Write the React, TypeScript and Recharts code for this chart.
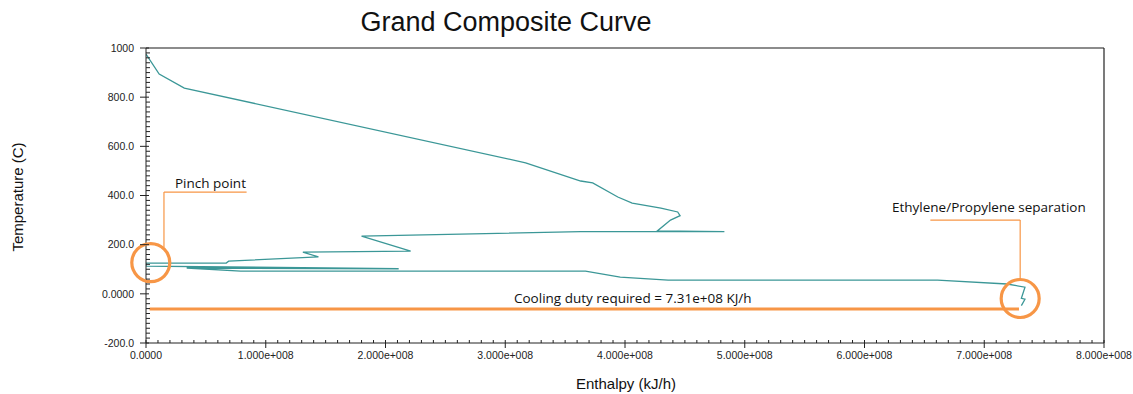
import React from 'react';
import { LineChart, Line, XAxis, YAxis, ReferenceLine, ReferenceDot } from 'recharts';

// grand composite curve (kJ/h, C), in drawing order
const enthalpy = [
  0, 0.11e8, 0.32e8, 3.17e8, 3.63e8, 3.73e8, 3.94e8, 4.06e8, 4.3e8, 4.44e8, 4.46e8, 4.38e8, 4.27e8,
  4.83e8, 3.63e8, 1.8e8, 2.21e8, 1.31e8, 1.44e8, 0.69e8, 0.67e8, 0, 0, 2.11e8, 0.34e8, 0.79e8,
  3.67e8, 3.96e8, 4.36e8, 6.61e8, 7.19e8, 7.34e8, 7.31e8, 7.34e8, 7.31e8,
];
const temperature = [
  975, 894, 837, 533, 459, 451, 394, 369, 349, 333, 318, 300, 256,
  253, 253, 235, 174, 170, 150, 133, 125, 125, 113, 102, 105, 92,
  92, 68, 56, 56, 40, 27, -18, -22, -48,
];

const xMajorTicks = [0, 1e8, 2e8, 3e8, 4e8, 5e8, 6e8, 7e8, 8e8];
const xTickLabels = ['0.0000', '1.000e+008', '2.000e+008', '3.000e+008', '4.000e+008', '5.000e+008', '6.000e+008', '7.000e+008', '8.000e+008'];
const yMajorTicks = [-200, 0, 200, 400, 600, 800, 1000];
const yTickLabels = ['-200.0', '0.0000', '200.0', '400.0', '600.0', '800.0', '1000'];

// annotations
const coolingDuty = { from: 0.03e8, to: 7.29e8, t: -62 };
const pinchPoint = { h: 0.04e8, t: 127 };
const pinchCallout = { h: 0.15e8, hEnd: 0.84e8, tLow: 188, tHigh: 414 };
const ethylenePoint = { h: 7.3e8, t: -19 };
const ethyleneCallout = { h: 7.3e8, hEnd: 6.55e8, tLow: 60, tHigh: 300 };

const ORANGE = '#F79646';
const CURVE = '#3b9797';
const AXIS = '#222';

function withMinors(majors: number[]) {
  const out: number[] = [];
  for (let i = 0; i < majors.length - 1; i++) {
    for (let k = 0; k < 10; k++) out.push(majors[i] + (k * (majors[i + 1] - majors[i])) / 10);
  }
  out.push(majors[majors.length - 1]);
  return out;
}

const data = enthalpy.map((h, i) => ({ h, t: temperature[i] }));

function XTick({ x, y, payload }: any) {
  const i = xMajorTicks.indexOf(payload.value);
  if (i < 0) return <line x1={x} y1={y} x2={x} y2={y - 3} stroke={AXIS} />;
  return (
    <g>
      <line x1={x} y1={y - 3} x2={x} y2={y + 5} stroke={AXIS} />
      <text x={x} y={y + 16} textAnchor="middle" fontSize={10.5} fill={AXIS} fontFamily="Liberation Sans, Arial">
        {xTickLabels[i]}
      </text>
    </g>
  );
}

function YTick({ x, y, payload }: any) {
  const i = yMajorTicks.indexOf(payload.value);
  if (i < 0) return <line x1={x} y1={y} x2={x + 4} y2={y} stroke={AXIS} />;
  return (
    <g>
      <line x1={x - 6} y1={y} x2={x + 3} y2={y} stroke={AXIS} />
      <text x={x - 12} y={y} dy="0.35em" textAnchor="end" fontSize={10.5} fill={AXIS} fontFamily="Liberation Sans, Arial">
        {yTickLabels[i]}
      </text>
    </g>
  );
}

const note: React.CSSProperties = {
  position: 'absolute',
  fontFamily: '"Open Sans", sans-serif',
  fontSize: 13.5,
  lineHeight: '18px',
  color: '#111',
  whiteSpace: 'nowrap',
};

export default function App() {
  return (
    <div style={{ position: 'absolute', left: 0, top: 0, width: 1133, height: 394, background: '#fff' }}>
      <LineChart width={1133} height={394} data={data} margin={{ top: 48, right: 29, bottom: 21, left: 86 }}>
        <XAxis
          type="number"
          dataKey="h"
          domain={[0, 8e8]}
          allowDataOverflow
          ticks={withMinors(xMajorTicks)}
          interval={0}
          tick={<XTick />}
          tickLine={false}
          tickSize={0}
          tickMargin={0}
          height={30}
          axisLine={{ stroke: AXIS }}
        />
        <YAxis
          type="number"
          dataKey="t"
          domain={[-200, 1000]}
          allowDataOverflow
          ticks={withMinors(yMajorTicks)}
          interval={0}
          tick={<YTick />}
          tickLine={false}
          tickSize={0}
          tickMargin={0}
          width={60}
          axisLine={{ stroke: AXIS }}
        />
        <ReferenceLine y={1000} stroke="#666" strokeWidth={1.5} ifOverflow="visible" />
        <ReferenceLine x={8e8} stroke={AXIS} strokeWidth={1.2} ifOverflow="visible" />
        <Line
          dataKey="t"
          type="linear"
          stroke={CURVE}
          strokeWidth={1.3}
          dot={false}
          isAnimationActive={false}
        />
        <ReferenceLine
          segment={[{ x: coolingDuty.from, y: coolingDuty.t }, { x: coolingDuty.to, y: coolingDuty.t }]}
          stroke={ORANGE}
          strokeWidth={3}
          ifOverflow="visible"
        />
        <ReferenceLine
          segment={[{ x: pinchCallout.h, y: pinchCallout.tLow }, { x: pinchCallout.h, y: pinchCallout.tHigh }]}
          stroke={ORANGE}
          strokeWidth={1.2}
          ifOverflow="visible"
        />
        <ReferenceLine
          segment={[{ x: pinchCallout.h, y: pinchCallout.tHigh }, { x: pinchCallout.hEnd, y: pinchCallout.tHigh }]}
          stroke={ORANGE}
          strokeWidth={1.2}
          ifOverflow="visible"
        />
        <ReferenceLine
          segment={[{ x: ethyleneCallout.h, y: ethyleneCallout.tLow }, { x: ethyleneCallout.h, y: ethyleneCallout.tHigh }]}
          stroke={ORANGE}
          strokeWidth={1.2}
          ifOverflow="visible"
        />
        <ReferenceLine
          segment={[{ x: ethyleneCallout.hEnd, y: ethyleneCallout.tHigh }, { x: ethyleneCallout.h, y: ethyleneCallout.tHigh }]}
          stroke={ORANGE}
          strokeWidth={1.2}
          ifOverflow="visible"
        />
        <ReferenceDot x={pinchPoint.h} y={pinchPoint.t} r={19} fill="none" stroke={ORANGE} strokeWidth={3.2} ifOverflow="visible" />
        <ReferenceDot x={ethylenePoint.h} y={ethylenePoint.t} r={19} fill="none" stroke={ORANGE} strokeWidth={3.2} ifOverflow="visible" />
      </LineChart>

      <div
        style={{
          position: 'absolute',
          left: 506,
          top: 7,
          transform: 'translateX(-50%)',
          fontFamily: '"Liberation Sans", Arial, sans-serif',
          fontSize: 27,
          lineHeight: '30px',
          color: '#111',
          whiteSpace: 'nowrap',
        }}
      >
        Grand Composite Curve
      </div>
      <div
        style={{
          position: 'absolute',
          left: 626,
          top: 375,
          transform: 'translateX(-50%)',
          fontFamily: '"Liberation Sans", Arial, sans-serif',
          fontSize: 15,
          lineHeight: '18px',
          color: '#111',
          whiteSpace: 'nowrap',
        }}
      >
        Enthalpy (kJ/h)
      </div>
      <div
        style={{
          position: 'absolute',
          left: 18,
          top: 197,
          transform: 'translate(-50%, -50%) rotate(-90deg)',
          fontFamily: '"Liberation Sans", Arial, sans-serif',
          fontSize: 15,
          lineHeight: '18px',
          color: '#111',
          whiteSpace: 'nowrap',
        }}
      >
        Temperature (C)
      </div>
      <div style={{ ...note, left: 175, top: 174 }}>Pinch point</div>
      <div style={{ ...note, left: 892, top: 198 }}>Ethylene/Propylene separation</div>
      <div style={{ ...note, left: 514, top: 289 }}>Cooling duty required = 7.31e+08 KJ/h</div>
    </div>
  );
}
